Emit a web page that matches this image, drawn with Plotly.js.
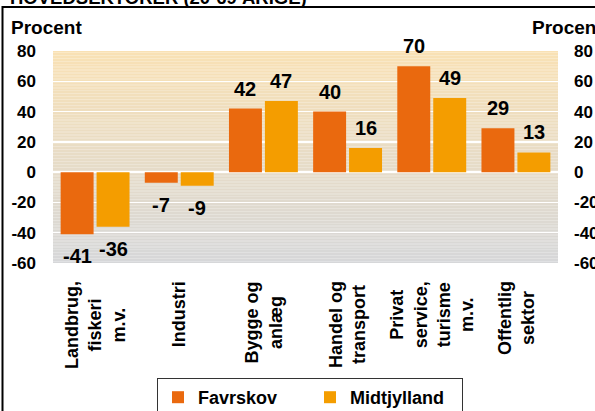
<!DOCTYPE html>
<html>
<head>
<meta charset="utf-8">
<script src="https://cdn.plot.ly/plotly-3.0.1.min.js"></script>
<style>html,body{margin:0;padding:0;background:#fff;}#chart{width:595px;height:411px;}</style>
</head>
<body>
<div id="chart"></div>
<script>
// ---- data ----
var categories = ["Landbrug, fiskeri m.v.", "Industri", "Bygge og anlæg", "Handel og transport", "Privat service, turisme m.v.", "Offentlig sektor"];
var categoryLabels = ["Landbrug,<br>fiskeri<br>m.v.", "Industri", "Bygge og<br>anlæg", "Handel og<br>transport", "Privat<br>service,<br>turisme<br>m.v.", "Offentlig<br>sektor"];
var favrskov = [-41, -7, 42, 40, 70, 29];
var midtjylland = [-36, -9, 47, 16, 49, 13];
var seriesNames = ["Favrskov", "Midtjylland"];
var yTicks = [-60, -40, -20, 0, 20, 40, 60, 80];
var titleText = "HOVEDSEKTORER (20-69 ÅRIGE)";
var axisTitle = "Procent";

// ---- styling ----
var FONT = "Liberation Sans, Arial, Helvetica, sans-serif";
var W = 595, H = 411;
var M = {l: 53, r: 37, t: 51, b: 148, autoexpand: false};
var plotH = H - M.t - M.b;
var plotW = W - M.l - M.r;
function pyPaper(px) { return (H - M.b - px) / plotH; }
function pxPaper(px) { return (px - M.l) / plotW; }

var yMin = -60, yMax = 80;

// background gradient bands (orange at top -> grey at bottom)
var cTop = [249, 225, 180], cBot = [214, 215, 217];
var shapes = [];
var step = 1;
for (var v = yMin; v < yMax; v += step) {
  var t = (v + step / 2 - yMin) / (yMax - yMin);
  var c = cBot.map(function (b, i) { return Math.round(b + (cTop[i] - b) * t); });
  shapes.push({type: "rect", layer: "below", xref: "paper", yref: "y", x0: 0, x1: 1, y0: v, y1: v + step,
    fillcolor: "rgb(" + c.join(",") + ")", line: {width: 0}});
}
// outer frame
shapes.push({type: "rect", layer: "above", xref: "paper", yref: "paper",
  x0: pxPaper(2.5), x1: pxPaper(640), y0: pyPaper(7), y1: pyPaper(460),
  fillcolor: "rgba(0,0,0,0)", line: {color: "#000", width: 2}});

var annotations = categoryLabels.map(function (lab, i) {
  return {xref: "x", yref: "paper", x: categories[i], y: pyPaper(279), xanchor: "center", yanchor: "top",
    text: lab, textangle: -90, align: "center", showarrow: false,
    font: {family: FONT, size: 18, color: "#000", weight: "bold"}};
});

// value labels above / below each bar
var seriesVals = [favrskov, midtjylland];
var groupShift = [-18, 18];
seriesVals.forEach(function (vals, s) {
  vals.forEach(function (val, i) {
    var pos = val >= 0;
    annotations.push({xref: "x", yref: "y", x: categories[i], y: val, xshift: groupShift[s],
      yshift: pos ? 7 : -9, xanchor: "center", yanchor: pos ? "bottom" : "top",
      text: String(val), showarrow: false,
      font: {family: FONT, size: 20, color: "#000", weight: "bold"}});
  });
});

annotations.push({xref: "paper", yref: "paper", x: pxPaper(9), y: pyPaper(40), xanchor: "left", yanchor: "bottom",
  text: axisTitle, showarrow: false, font: {family: FONT, size: 19, color: "#000", weight: "bold"}});
annotations.push({xref: "paper", yref: "paper", x: pxPaper(530), y: pyPaper(40), xanchor: "left", yanchor: "bottom",
  text: axisTitle, showarrow: false, font: {family: FONT, size: 19, color: "#000", weight: "bold"}});
annotations.push({xref: "paper", yref: "paper", x: pxPaper(8), y: pyPaper(10), xanchor: "left", yanchor: "bottom",
  text: titleText, showarrow: false, font: {family: FONT, size: 18.5, color: "#000", weight: "bold"}});

var colors = ["#EA690E", "#F49D00"];
var traces = seriesVals.map(function (vals, i) {
  return {type: "bar", name: seriesNames[i], x: categories, y: vals,
    marker: {color: colors[i], line: {width: 0}},
    hoverinfo: "skip"};
});

var yaxisBase = {range: [yMin, yMax], tickvals: yTicks, ticktext: yTicks.map(String),
  showgrid: true, gridcolor: "#FFFFFF", gridwidth: 1.5, zeroline: true, zerolinecolor: "#FFFFFF", zerolinewidth: 1.5,
  showline: false, ticks: "", fixedrange: true,
  tickfont: {family: FONT, size: 17, color: "#000", weight: "bold"}};

var layout = {
  width: W, height: H, margin: M,
  paper_bgcolor: "#FFFFFF", plot_bgcolor: "rgba(0,0,0,0)",
  barmode: "group", bargap: 0.146, bargroupgap: 0.083,
  showlegend: true,
  legend: {orientation: "h", x: pxPaper(157), xanchor: "left", y: pyPaper(378), yanchor: "top",
    bgcolor: "#FFFFFF", bordercolor: "#333333", borderwidth: 1, entrywidth: 107, entrywidthmode: "pixels",
    font: {family: FONT, size: 18, color: "#000", weight: "bold"}},
  xaxis: {type: "category", categoryarray: categories, showticklabels: false, ticks: "", showgrid: false,
    zeroline: false, showline: false, fixedrange: true},
  yaxis: Object.assign({}, yaxisBase, {side: "left", ticklabelstandoff: 16}),
  yaxis2: Object.assign({}, yaxisBase, {side: "right", overlaying: "y", showgrid: false, zeroline: false, ticklabelstandoff: 15}),
  shapes: shapes,
  annotations: annotations
};

// invisible helper trace so that the right-hand axis is rendered
var rightAxisTrace = {type: "scatter", x: categories, y: midtjylland, yaxis: "y2", mode: "none",
  showlegend: false, hoverinfo: "skip"};

Plotly.newPlot("chart", traces.concat([rightAxisTrace]), layout, {staticPlot: true, displayModeBar: false});
</script>
</body>
</html>
